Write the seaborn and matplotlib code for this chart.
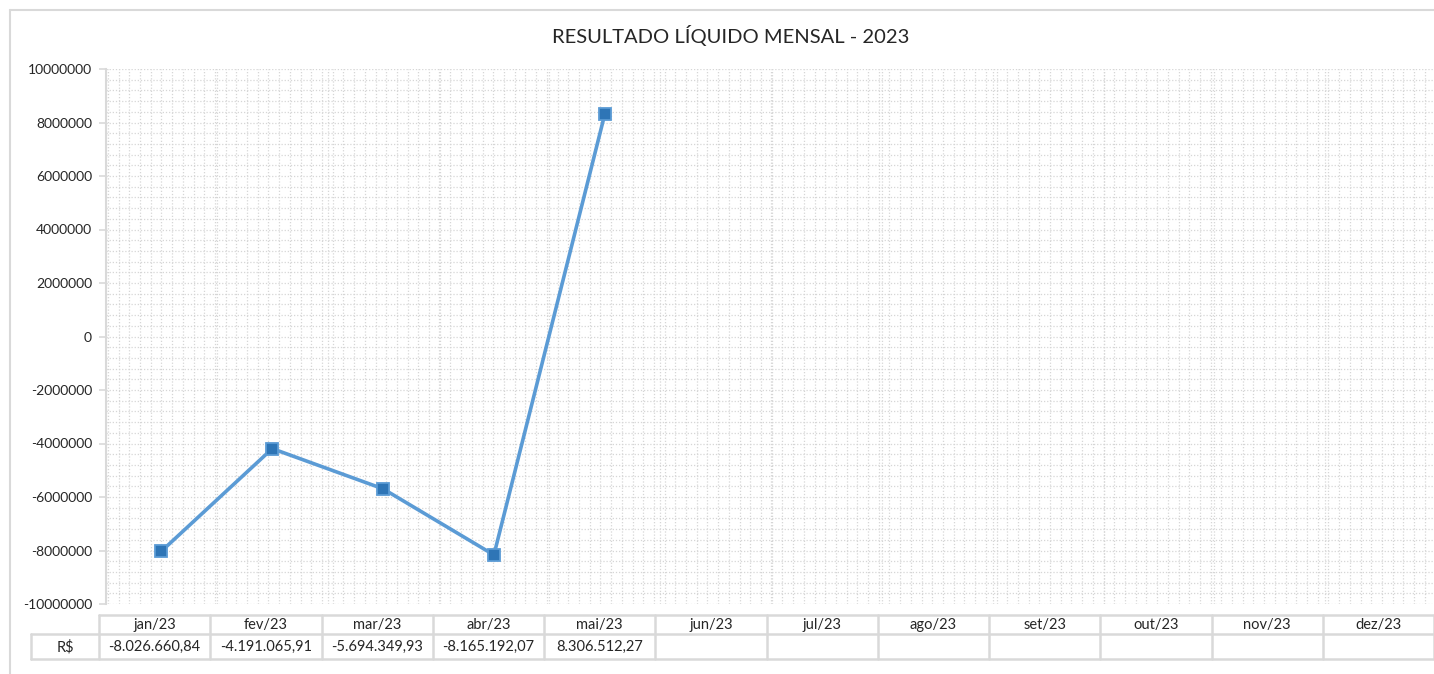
import numpy as np
import pandas as pd
import matplotlib
matplotlib.use("Agg")
import matplotlib.pyplot as plt
from matplotlib.ticker import MultipleLocator, FixedLocator, FuncFormatter
import seaborn as sns

# ---- data ----
months = ["jan/23", "fev/23", "mar/23", "abr/23", "mai/23", "jun/23",
          "jul/23", "ago/23", "set/23", "out/23", "nov/23", "dez/23"]
values = [-8026660.84, -4191065.91, -5694349.93, -8165192.07, 8306512.27,
          np.nan, np.nan, np.nan, np.nan, np.nan, np.nan, np.nan]
row_label = "R$"
title = "RESULTADO LÍQUIDO MENSAL - 2023"
y_ticks = [-10000000, -8000000, -6000000, -4000000, -2000000, 0,
           2000000, 4000000, 6000000, 8000000, 10000000]

def fmt_br(v):
    if v is None or (isinstance(v, float) and np.isnan(v)):
        return ""
    s = f"{abs(v):,.2f}"
    s = s.replace(",", "X").replace(".", ",").replace("X", ".")
    return ("-" if v < 0 else "") + s

sns.set_theme(style="white")
plt.rcParams["font.family"] = ["Lato", "DejaVu Sans"]

W, H = 1434, 674
fig = plt.figure(figsize=(W / 100, H / 100), dpi=100)
fig.patch.set_facecolor("white")

# overlay axes in pixel coordinates for frame and table
bg = fig.add_axes([0, 0, 1, 1], zorder=0)
bg.set_xlim(0, W)
bg.set_ylim(H, 0)
bg.axis("off")
bg.plot([10, 10], [10, H], color="#D9D9D9", lw=1.5)
bg.plot([10, W], [10, 10], color="#D9D9D9", lw=1.5)

# ---- main plot ----
left, right, top, bottom = 106, 1436, 69, 604
ax = fig.add_axes([left / W, (H - bottom) / H, (right - left) / W, (bottom - top) / H], zorder=2)
ax.patch.set_alpha(0)

df = pd.DataFrame({"pos": np.arange(len(months)), "month": months, "value": values})
sns.lineplot(data=df.dropna(), x="pos", y="value", ax=ax, color="#5B9BD5",
             linewidth=2.6, marker="s", markersize=8.5,
             markerfacecolor="#2E75B6", markeredgecolor="#5B9BD5",
             markeredgewidth=1.3, zorder=5)

ax.set_xlim(-0.5, len(months) - 0.5)
ax.set_ylim(y_ticks[0], y_ticks[-1])
ax.yaxis.set_major_locator(FixedLocator(y_ticks))
ax.yaxis.set_minor_locator(MultipleLocator(400000))
ax.yaxis.set_major_formatter(FuncFormatter(lambda v, p: f"{int(round(v))}"))
ax.xaxis.set_major_locator(FixedLocator(np.arange(-0.5, len(months), 1.0)))
ax.xaxis.set_minor_locator(MultipleLocator(0.0966))
ax.set_xticklabels([])
ax.set_xlabel("")
ax.set_ylabel("")

grid_kw = dict(color="#D6D6D6", linewidth=0.9, linestyle=(0, (1, 1.5)))
ax.grid(True, which="both", axis="both", **grid_kw)
ax.set_axisbelow(True)

for s in ["top", "right", "bottom"]:
    ax.spines[s].set_visible(False)
ax.spines["left"].set_color("#D9D9D9")
ax.spines["left"].set_linewidth(1.5)
ax.tick_params(axis="y", which="major", left=True, length=5, width=1.2,
               color="#D9D9D9", labelsize=10, labelcolor="#262626", pad=5)
ax.tick_params(axis="y", which="minor", left=False)
ax.tick_params(axis="x", which="both", bottom=False, labelbottom=False)

# ---- title ----
fig.text(731 / W, 1 - 35 / H, title, ha="center", va="center",
         fontsize=14.5, color="#262626")

# ---- data table ----
tbl_left, col_w = 99, 111.25
lab_left = 31
r0, r1, r2 = 615, 634, 659
ec = "#D9D9D9"
lw = 1.8
n = len(months)
tbl_right = tbl_left + n * col_w
bg.plot([tbl_left, tbl_right], [r0, r0], color=ec, lw=lw)
bg.plot([lab_left, tbl_right], [r1, r1], color=ec, lw=lw)
bg.plot([lab_left, tbl_right], [r2, r2], color=ec, lw=lw)
bg.plot([lab_left, lab_left], [r1, r2], color=ec, lw=lw)
for i in range(n + 1):
    x = tbl_left + i * col_w
    bg.plot([x, x], [r0, r2], color=ec, lw=lw)
for i, (m, v) in enumerate(zip(months, values)):
    cx = tbl_left + (i + 0.5) * col_w
    bg.text(cx, (r0 + r1) / 2 + 0.5, m, ha="center", va="center", fontsize=10.5, color="#262626")
    bg.text(cx, (r1 + r2) / 2 + 0.5, fmt_br(v), ha="center", va="center", fontsize=10.5, color="#262626")
bg.text((lab_left + tbl_left) / 2, (r1 + r2) / 2 + 0.5, row_label, ha="center", va="center",
        fontsize=10.5, color="#262626")

fig.savefig("out.png", dpi=100)
